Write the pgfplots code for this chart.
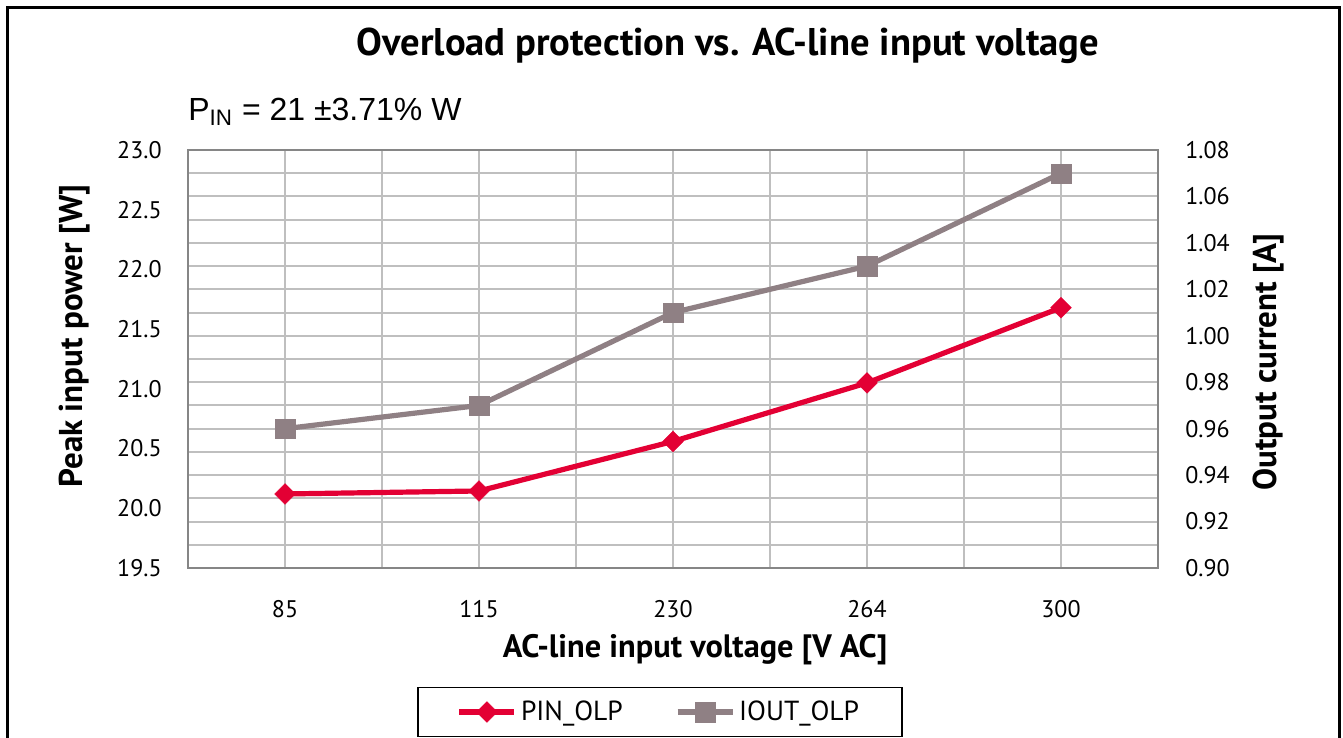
\documentclass[border=0pt]{standalone}
\usepackage{pgfplots}
\pgfplotsset{compat=1.18}
\usepackage{fontspec}
\setmainfont{PT Sans}
\newfontfamily\arialfont{Liberation Sans}
\definecolor{ifxred}{RGB}{227,0,52}
\definecolor{ifxgrey}{RGB}{143,128,132}
\definecolor{gridgrey}{RGB}{191,191,191}
\definecolor{framegrey}{RGB}{134,134,134}
\begin{document}
\begin{tikzpicture}
\useasboundingbox (0,0) rectangle (671.5pt,-369pt);
\draw[line width=1.5pt] (3.75pt,-400pt) -- (3.75pt,-3.75pt) -- (669.75pt,-3.75pt) -- (669.75pt,-400pt);
% right axis (output current) with grid
\begin{axis}[at={(94pt,-284pt)}, anchor=south west, scale only axis,
  width=485pt, height=209pt,
  xmin=-0.5, xmax=4.5, ymin=0.90, ymax=1.08,
  xtick={0,1,2,3,4}, xticklabels={85,115,230,264,300},
  minor xtick={-0.5,0.5,1.5,2.5,3.5,4.5},
  ytick={0.90,0.92,0.94,0.96,0.98,1.00,1.02,1.04,1.06,1.08},
  minor ytick={0.91,0.93,0.95,0.97,0.99,1.01,1.03,1.05,1.07},
  xmajorgrids, xminorgrids, ymajorgrids, yminorgrids,
  major grid style={gridgrey, line width=1pt},
  minor grid style={gridgrey, line width=1pt},
  major tick length=0pt, minor tick length=0pt,
  axis line style={framegrey, line width=1pt},
  yticklabel pos=right,
  /pgf/number format/assume math mode=true,
  yticklabel style={/pgf/number format/fixed, /pgf/number format/fixed zerofill,
    /pgf/number format/precision=2, inner sep=0pt, xshift=13.5pt},
  xticklabel style={inner sep=0pt, yshift=-16pt},
  tick label style={font=\fontsize{12}{14}\selectfont},
  clip=false,
]
\addplot[ifxgrey, line width=2.6pt, mark=square*, mark size=4.8pt,
  mark options={solid, line width=0.1pt}]
  coordinates {(0,0.96) (1,0.97) (2,1.01) (3,1.03) (4,1.07)};
\end{axis}
% left axis (peak input power)
\begin{axis}[at={(94pt,-284pt)}, anchor=south west, scale only axis,
  width=485pt, height=209pt,
  xmin=-0.5, xmax=4.5, ymin=19.5, ymax=23,
  hide x axis,
  axis y line*=left, y axis line style={draw=none},
  ytick={19.5,20,20.5,21,21.5,22,22.5,23},
  major tick length=0pt,
  /pgf/number format/assume math mode=true,
  yticklabel style={/pgf/number format/fixed, /pgf/number format/fixed zerofill,
    /pgf/number format/precision=1, inner sep=0pt, xshift=-13pt},
  tick label style={font=\fontsize{12}{14}\selectfont},
  clip=false,
  legend columns=2,
  legend style={at={(0.4866,-0.3445)}, anchor=center, draw=black, line width=0.75pt,
    font=\fontsize{13.8}{15}\selectfont, inner xsep=19.5pt, inner ysep=4.5pt,
    /tikz/every even column/.append style={column sep=24pt}},
  legend image code/.code={\draw[mark repeat=2, mark phase=2] plot coordinates {(0pt,0pt) (13.75pt,0pt) (27.5pt,0pt)};},
]
\addplot[ifxred, line width=2.6pt, mark=square*, mark size=3.7pt,
  mark options={solid, rotate=45, line width=0.1pt}]
  coordinates {(0,20.12) (1,20.145) (2,20.56) (3,21.05) (4,21.68)};
\addlegendentry{PIN\_OLP}
\addlegendimage{ifxgrey, line width=2.6pt, mark=square*, mark size=4.8pt,
  mark options={solid, line width=0.1pt}}
\addlegendentry{IOUT\_OLP}
\end{axis}
\node[font=\bfseries\fontsize{19.3}{21}\selectfont] at (364pt,-23pt) {Overload protection vs. AC-line input voltage};
\node[anchor=base west, inner sep=0pt, font=\arialfont\fontsize{16}{18}\selectfont] at (94pt,-60pt) {P\textsubscript{IN} = 21 ±3.71\% W};
\node[rotate=90, font=\bfseries\fontsize{16.5}{18}\selectfont] at (37.5pt,-168pt) {Peak input power [W]};
\node[rotate=90, font=\bfseries\fontsize{16.5}{18}\selectfont] at (634pt,-181pt) {Output current [A]};
\node[font=\bfseries\fontsize{16.2}{18}\selectfont] at (347.5pt,-325pt) {AC-line input voltage [V AC]};
\end{tikzpicture}
\end{document}
